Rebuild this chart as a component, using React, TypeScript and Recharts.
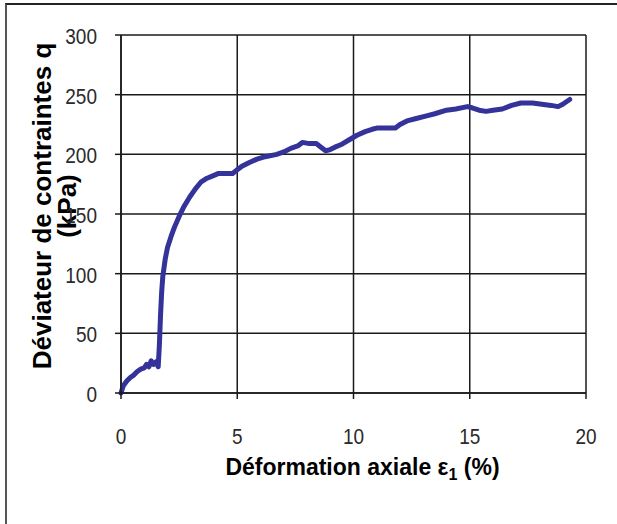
import { LineChart, Line, XAxis, YAxis, CartesianGrid, Label } from 'recharts';

// Axial strain (%) and deviator stress q (kPa) from the triaxial test
const strain = [
  0, 0.1, 0.25, 0.4, 0.55, 0.7, 0.85, 1.0, 1.1, 1.2, 1.3, 1.4, 1.5, 1.6, 1.65, 1.7,
  1.75, 1.8, 1.9, 2.0, 2.15, 2.3, 2.5, 2.7, 2.95, 3.2, 3.45, 3.7, 3.95, 4.2, 4.5, 4.8,
  5.0, 5.2, 5.5, 5.85, 6.2, 6.7, 7.0, 7.3, 7.6, 7.8, 8.1, 8.4, 8.6, 8.8, 9.0, 9.2,
  9.45, 9.8, 10.15, 10.5, 10.8, 11.0, 11.4, 11.8, 12.0, 12.3, 12.7, 13.1, 13.5, 14.0,
  14.4, 14.9, 15.1, 15.4, 15.7, 16.0, 16.4, 16.8, 17.2, 17.7, 18.1, 18.5, 18.8, 19.0,
  19.3,
];
const deviator = [
  0, 6, 10, 13, 15, 18, 20, 21, 24, 22, 27, 24, 26, 22, 40, 65,
  85, 98, 112, 122, 131, 139, 148, 156, 164, 171, 177, 180, 182, 184, 184, 184,
  187, 190, 193, 196, 198, 200, 202, 205, 207, 210, 209, 209, 206, 203, 204, 206,
  208, 212, 216, 219, 221, 222, 222, 222, 225, 228, 230, 232, 234, 237,
  238, 240, 239, 237, 236, 237, 238, 241, 243, 243, 242, 241, 240, 242,
  246,
];

const xTicks = [0, 5, 10, 15, 20];
const yTicks = [0, 50, 100, 150, 200, 250, 300];

const data = strain.map((e, i) => ({ e, q: deviator[i] }));

const FONT = '"Liberation Sans", Arial, sans-serif';
const INK = '#1a1a1a';

const YTick = ({ x, y, payload }: any) => (
  <g transform={`translate(${x},${y}) scale(1,1.12)`}>
    <text textAnchor="end" dy={8} fontSize={19} fontFamily={FONT} fill="#2a2a2a">
      {payload.value}
    </text>
  </g>
);

const XTick = ({ x, y, payload }: any) => (
  <g transform={`translate(${x},${y + 43}) scale(1,1.12)`}>
    <text textAnchor="middle" fontSize={19} fontFamily={FONT} fill="#2a2a2a">
      {payload.value}
    </text>
  </g>
);

const YTitle = ({ viewBox }: any) => {
  const cy = viewBox.y + viewBox.height / 2 - 8;
  return (
    <g fontFamily={FONT} fontWeight="bold" fontSize={26} fill="#000">
      <text x={51} y={cy} textAnchor="middle" transform={`rotate(-90, 51, ${cy})`}>
        Déviateur de contraintes q
      </text>
      <text x={76} y={cy} textAnchor="middle" transform={`rotate(-90, 76, ${cy})`}>
        (kPa)
      </text>
    </g>
  );
};

const XTitle = ({ viewBox }: any) => {
  const cx = viewBox.x + viewBox.width / 2 + 9;
  return (
    <text
      x={cx}
      y={475}
      textAnchor="middle"
      fontFamily={FONT}
      fontWeight="bold"
      fontSize={23}
      fill="#000"
    >
      Déformation axiale ε
      <tspan fontSize={16} dy={5}>1</tspan>
      <tspan dy={-5}> (%)</tspan>
    </text>
  );
};

export default function App() {
  return (
    <div
      style={{
        position: 'absolute',
        left: 0,
        top: 0,
        width: 617,
        height: 524,
        background: '#fff',
        overflow: 'hidden',
      }}
    >
      {/* frame around the figure */}
      <div
        style={{
          position: 'absolute',
          left: 5,
          top: 3,
          width: 640,
          height: 560,
          borderTop: '2px solid #222',
          borderLeft: '2px solid #555',
        }}
      />
      <LineChart
        width={617}
        height={524}
        data={data}
        margin={{ top: 35, right: 31, left: 0, bottom: 0 }}
        style={{ position: 'absolute', left: 0, top: 0 }}
      >
        <CartesianGrid stroke={INK} strokeWidth={1.5} />
        <XAxis
          dataKey="e"
          type="number"
          domain={[0, 20]}
          ticks={xTicks}
          height={131}
          tickSize={6}
          tick={<XTick />}
          axisLine={{ stroke: INK, strokeWidth: 1.5 }}
          tickLine={{ stroke: INK, strokeWidth: 1.5 }}
        >
          <Label content={<XTitle />} />
        </XAxis>
        <YAxis
          type="number"
          domain={[0, 300]}
          ticks={yTicks}
          width={121}
          tickSize={6}
          tickMargin={18}
          tick={<YTick />}
          axisLine={{ stroke: INK, strokeWidth: 1.5 }}
          tickLine={{ stroke: INK, strokeWidth: 1.5 }}
        >
          <Label content={<YTitle />} />
        </YAxis>
        <Line
          type="linear"
          dataKey="q"
          stroke="#333399"
          strokeWidth={5}
          strokeLinejoin="round"
          strokeLinecap="round"
          dot={false}
          isAnimationActive={false}
        />
      </LineChart>
    </div>
  );
}
